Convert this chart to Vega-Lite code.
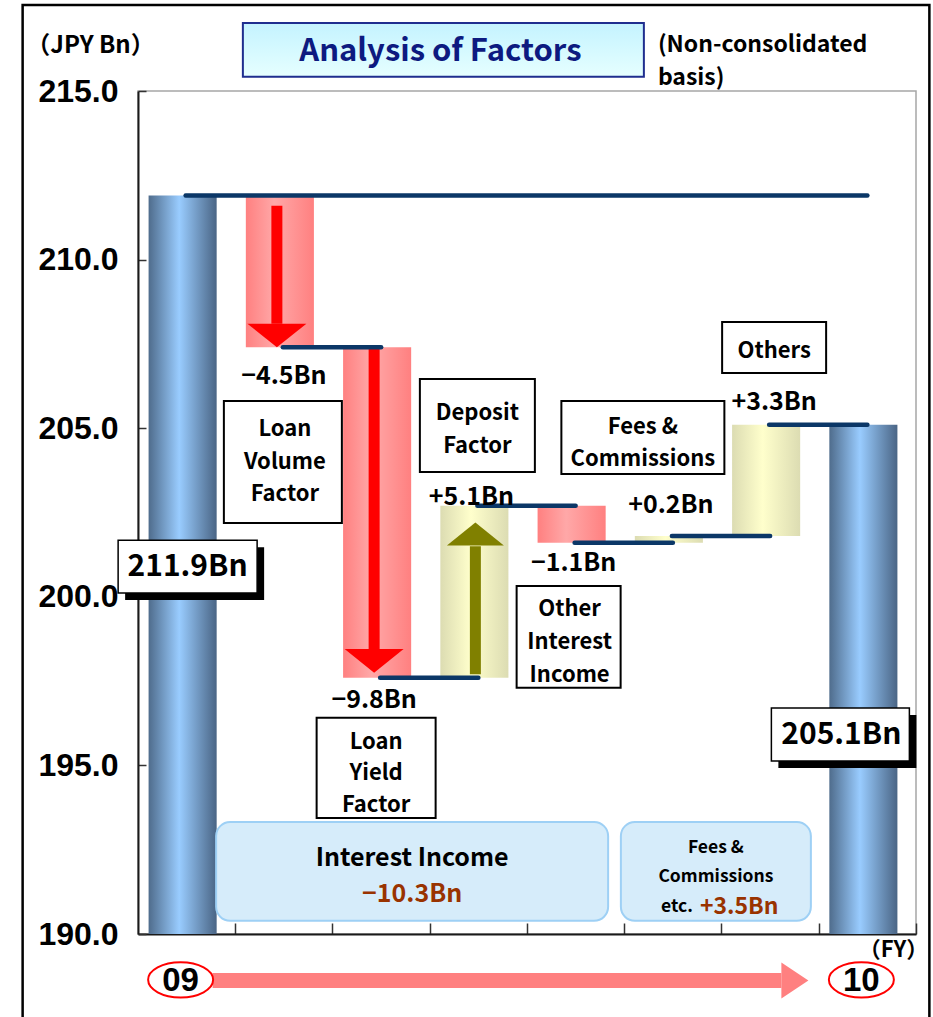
{
  "$schema": "https://vega.github.io/schema/vega-lite/v6.json",
  "width": 778,
  "height": 843,
  "autosize": {"type": "none"},
  "padding": {"left": 138, "top": 91, "right": 17, "bottom": 83},
  "background": "white",
  "config": {
    "view": {"stroke": "#A6A6A6", "strokeWidth": 1.5},
    "text": {"font": "Noto Sans CJK JP", "fontWeight": "bold", "fontSize": 25, "color": "black", "align": "center", "baseline": "middle"},
    "axis": {"grid": false, "domainColor": "#1a1a1a", "domainWidth": 2, "tickColor": "#333333", "tickWidth": 1.5, "titleFont": "Noto Sans CJK JP", "titleFontWeight": "bold", "titleColor": "black", "titleFontSize": 24}
  },
  "data": {"values": [{}]},
  "datasets": {
    "steps": [
      {"item": "FY09", "kind": "total", "level": 211.9},
      {"item": "Loan Volume Factor", "kind": "decrease", "from": 211.9, "level": 207.4, "change": -4.5},
      {"item": "Loan Yield Factor", "kind": "decrease", "from": 207.4, "level": 197.6, "change": -9.8},
      {"item": "Deposit Factor", "kind": "increase", "from": 197.6, "level": 202.7, "change": 5.1},
      {"item": "Other Interest Income", "kind": "decrease", "from": 202.7, "level": 201.6, "change": -1.1},
      {"item": "Fees & Commissions", "kind": "increase", "from": 201.6, "level": 201.8, "change": 0.2},
      {"item": "Others", "kind": "increase", "from": 201.8, "level": 205.1, "change": 3.3},
      {"item": "FY10", "kind": "total", "level": 205.1}
    ],
    "links": [
      {"a": "FY09", "b": "FY10", "level": 211.9},
      {"a": "Loan Volume Factor", "b": "Loan Yield Factor", "level": 207.4},
      {"a": "Loan Yield Factor", "b": "Deposit Factor", "level": 197.6},
      {"a": "Deposit Factor", "b": "Other Interest Income", "level": 202.7},
      {"a": "Other Interest Income", "b": "Fees & Commissions", "level": 201.6},
      {"a": "Fees & Commissions", "b": "Others", "level": 201.8},
      {"a": "Others", "b": "FY10", "level": 205.1}
    ],
    "arrows": [
      {"item": "Loan Volume Factor", "dir": "down", "tail": 211.6, "neck": 208.1, "tip": 207.4},
      {"item": "Loan Yield Factor", "dir": "down", "tail": 207.4, "neck": 198.4, "tip": 197.75},
      {"item": "Deposit Factor", "dir": "up", "tail": 197.7, "neck": 201.5, "tip": 202.2}
    ],
    "years": [
      {"item": "FY09", "label": "09"},
      {"item": "FY10", "label": "10"}
    ]
  },
  "layer": [
    {
      "data": {"name": "steps"},
      "transform": [{"filter": "datum.kind === 'total'"}],
      "mark": {"type": "bar", "xOffset": -4, "fill": {"gradient": "linear", "x1": 0, "y1": 0, "x2": 1, "y2": 0, "stops": [{"offset": 0, "color": "#4F6C8C"}, {"offset": 0.45, "color": "#99CCFF"}, {"offset": 1, "color": "#4A6585"}]}},
      "encoding": {
        "x": {"field": "item", "type": "nominal", "title": "（FY）",
          "scale": {"domain": ["FY09", "Loan Volume Factor", "Loan Yield Factor", "Deposit Factor", "Other Interest Income", "Fees & Commissions", "Others", "FY10"], "paddingInner": 0.3, "paddingOuter": 0.15},
          "axis": {"labels": false, "tickOffset": 48.6, "tickSize": -11, "titleX": 755, "titleY": 15, "titleAlign": "center", "titleBaseline": "middle", "titleFontSize": 22}},
        "y": {"field": "level", "type": "quantitative", "title": "（JPY Bn）",
          "scale": {"domain": [190, 215], "nice": false, "zero": false},
          "axis": {"values": [190, 195, 200, 205, 210, 215], "format": ".1f", "labelFont": "Liberation Sans", "labelFontSize": 32, "labelFontWeight": "bold", "labelColor": "black", "labelPadding": 28, "tickSize": -8, "titleAngle": 0, "titleX": -48, "titleY": -46, "titleAlign": "center", "titleBaseline": "middle"}},
        "y2": {"datum": 190}
      }
    },
    {
      "data": {"name": "steps"},
      "transform": [{"filter": "datum.kind === 'decrease'"}],
      "mark": {"type": "bar", "xOffset": -4, "fill": {"gradient": "linear", "x1": 0, "y1": 0, "x2": 1, "y2": 0, "stops": [{"offset": 0, "color": "#FF8080"}, {"offset": 0.42, "color": "#FFA8A8"}, {"offset": 1, "color": "#FF8080"}]}},
      "encoding": {
        "x": {"field": "item", "type": "nominal"},
        "y": {"field": "from", "type": "quantitative"},
        "y2": {"field": "level"}
      }
    },
    {
      "data": {"name": "steps"},
      "transform": [{"filter": "datum.kind === 'increase'"}],
      "mark": {"type": "bar", "xOffset": -4, "fill": {"gradient": "linear", "x1": 0, "y1": 0, "x2": 1, "y2": 0, "stops": [{"offset": 0, "color": "#DCDCB2"}, {"offset": 0.45, "color": "#FFFFCC"}, {"offset": 1, "color": "#DCDCB2"}]}},
      "encoding": {
        "x": {"field": "item", "type": "nominal"},
        "y": {"field": "from", "type": "quantitative"},
        "y2": {"field": "level"}
      }
    },
    {
      "data": {"name": "arrows"},
      "transform": [{"filter": "datum.dir === 'down'"}],
      "mark": {"type": "rule", "strokeWidth": 11, "strokeCap": "butt", "color": "#FF0000", "xOffset": -7},
      "encoding": {
        "x": {"field": "item", "type": "nominal"},
        "y": {"field": "tail", "type": "quantitative"},
        "y2": {"field": "neck"}
      }
    },
    {
      "data": {"name": "arrows"},
      "transform": [{"filter": "datum.dir === 'down'"}],
      "mark": {"type": "point", "shape": "M-1,-0.8L1,-0.8L0,0Z", "size": 3481, "filled": true, "color": "#FF0000", "opacity": 1, "strokeWidth": 0, "xOffset": -7},
      "encoding": {
        "x": {"field": "item", "type": "nominal"},
        "y": {"field": "tip", "type": "quantitative"}
      }
    },
    {
      "data": {"name": "arrows"},
      "transform": [{"filter": "datum.dir === 'up'"}],
      "mark": {"type": "rule", "strokeWidth": 11, "strokeCap": "butt", "color": "#808000", "xOffset": -3},
      "encoding": {
        "x": {"field": "item", "type": "nominal"},
        "y": {"field": "tail", "type": "quantitative"},
        "y2": {"field": "neck"}
      }
    },
    {
      "data": {"name": "arrows"},
      "transform": [{"filter": "datum.dir === 'up'"}],
      "mark": {"type": "point", "shape": "M-1,0.8L1,0.8L0,0Z", "size": 3249, "filled": true, "color": "#808000", "opacity": 1, "strokeWidth": 0, "xOffset": -3},
      "encoding": {
        "x": {"field": "item", "type": "nominal"},
        "y": {"field": "tip", "type": "quantitative"}
      }
    },
    {
      "data": {"name": "links"},
      "mark": {"type": "rule", "strokeWidth": 4.5, "strokeCap": "round", "color": "#0B3767", "xOffset": -1, "x2Offset": 0},
      "encoding": {
        "x": {"field": "a", "type": "nominal", "bandPosition": 0.5},
        "x2": {"field": "b", "bandPosition": 0.5},
        "y": {"field": "level", "type": "quantitative"}
      }
    },

    {"mark": {"type": "bar", "width": 118, "xOffset": -1, "fill": "white", "stroke": "black", "strokeWidth": 2},
     "encoding": {"x": {"datum": "Loan Volume Factor"}, "y": {"datum": 205.81}, "y2": {"datum": 202.19}}},
    {"mark": {"type": "text", "fontSize": 22, "dx": 1, "dy": -32.5, "lineHeight": 32.5, "text": ["Loan", "Volume", "Factor"]},
     "encoding": {"x": {"datum": "Loan Volume Factor"}, "y": {"datum": 204.0}}},

    {"mark": {"type": "bar", "width": 119, "xOffset": -5, "fill": "white", "stroke": "black", "strokeWidth": 2},
     "encoding": {"x": {"datum": "Loan Yield Factor"}, "y": {"datum": 196.41}, "y2": {"datum": 193.44}}},
    {"mark": {"type": "text", "fontSize": 22, "dx": -5, "dy": -31.5, "lineHeight": 31.5, "text": ["Loan", "Yield", "Factor"]},
     "encoding": {"x": {"datum": "Loan Yield Factor"}, "y": {"datum": 194.77}}},

    {"mark": {"type": "bar", "width": 115, "xOffset": -1, "fill": "white", "stroke": "black", "strokeWidth": 2},
     "encoding": {"x": {"datum": "Deposit Factor"}, "y": {"datum": 206.46}, "y2": {"datum": 203.7}}},
    {"mark": {"type": "text", "fontSize": 22, "dx": -1, "dy": -16.5, "lineHeight": 33, "text": ["Deposit", "Factor"]},
     "encoding": {"x": {"datum": "Deposit Factor"}, "y": {"datum": 204.96}}},

    {"mark": {"type": "bar", "width": 104, "xOffset": -7, "fill": "white", "stroke": "black", "strokeWidth": 2},
     "encoding": {"x": {"datum": "Other Interest Income"}, "y": {"datum": 200.32}, "y2": {"datum": 197.3}}},
    {"mark": {"type": "text", "fontSize": 22, "dx": -6, "dy": -33, "lineHeight": 33, "text": ["Other", "Interest", "Income"]},
     "encoding": {"x": {"datum": "Other Interest Income"}, "y": {"datum": 198.66}}},

    {"mark": {"type": "bar", "width": 163, "xOffset": -30, "fill": "white", "stroke": "black", "strokeWidth": 2},
     "encoding": {"x": {"datum": "Fees & Commissions"}, "y": {"datum": 205.81}, "y2": {"datum": 203.64}}},
    {"mark": {"type": "text", "fontSize": 22, "dx": -30, "dy": -16, "lineHeight": 32, "text": ["Fees &", "Commissions"]},
     "encoding": {"x": {"datum": "Fees & Commissions"}, "y": {"datum": 204.56}}},

    {"mark": {"type": "bar", "width": 104, "xOffset": 4, "fill": "white", "stroke": "black", "strokeWidth": 2},
     "encoding": {"x": {"datum": "Others"}, "y": {"datum": 208.15}, "y2": {"datum": 206.64}}},
    {"mark": {"type": "text", "fontSize": 22, "dx": 4, "text": "Others"},
     "encoding": {"x": {"datum": "Others"}, "y": {"datum": 207.29}}},

    {"mark": {"type": "text", "dx": 0, "text": "−4.5Bn"}, "encoding": {"x": {"datum": "Loan Volume Factor"}, "y": {"datum": 206.55}}},
    {"mark": {"type": "text", "dx": -7, "text": "−9.8Bn"}, "encoding": {"x": {"datum": "Loan Yield Factor"}, "y": {"datum": 196.94}}},
    {"mark": {"type": "text", "dx": -7, "text": "+5.1Bn"}, "encoding": {"x": {"datum": "Deposit Factor"}, "y": {"datum": 202.96}}},
    {"mark": {"type": "text", "dx": -2, "text": "−1.1Bn"}, "encoding": {"x": {"datum": "Other Interest Income"}, "y": {"datum": 201.0}}},
    {"mark": {"type": "text", "dx": -2, "text": "+0.2Bn"}, "encoding": {"x": {"datum": "Fees & Commissions"}, "y": {"datum": 202.72}}},
    {"mark": {"type": "text", "dx": 4, "text": "+3.3Bn"}, "encoding": {"x": {"datum": "Others"}, "y": {"datum": 205.78}}},

    {"mark": {"type": "bar", "width": 139, "xOffset": 8, "yOffset": 7, "y2Offset": 7, "fill": "black"},
     "encoding": {"x": {"datum": "FY09"}, "y": {"datum": 201.68}, "y2": {"datum": 200.11}}},
    {"mark": {"type": "bar", "width": 139, "xOffset": 1, "fill": "white", "stroke": "black", "strokeWidth": 1.5},
     "encoding": {"x": {"datum": "FY09"}, "y": {"datum": 201.68}, "y2": {"datum": 200.11}}},
    {"mark": {"type": "text", "dx": 1, "fontSize": 30, "text": "211.9Bn"},
     "encoding": {"x": {"datum": "FY09"}, "y": {"datum": 200.88}}},

    {"mark": {"type": "bar", "width": 138, "xOffset": -20, "yOffset": 7, "y2Offset": 7, "fill": "black"},
     "encoding": {"x": {"datum": "FY10"}, "y": {"datum": 196.7}, "y2": {"datum": 195.13}}},
    {"mark": {"type": "bar", "width": 138, "xOffset": -27, "fill": "white", "stroke": "black", "strokeWidth": 1.5},
     "encoding": {"x": {"datum": "FY10"}, "y": {"datum": 196.7}, "y2": {"datum": 195.13}}},
    {"mark": {"type": "text", "dx": -26, "fontSize": 30, "text": "205.1Bn"},
     "encoding": {"x": {"datum": "FY10"}, "y": {"datum": 195.9}}},

    {"mark": {"type": "bar", "width": 392, "xOffset": 31, "cornerRadius": 14, "fill": "#D6ECFA", "stroke": "#9ED0F5", "strokeWidth": 2},
     "encoding": {"x": {"datum": "Loan Yield Factor"}, "y": {"datum": 193.32}, "y2": {"datum": 190.39}}},
    {"mark": {"type": "text", "dx": 31, "fontSize": 25, "text": "Interest Income"},
     "encoding": {"x": {"datum": "Loan Yield Factor"}, "y": {"datum": 192.26}}},
    {"mark": {"type": "text", "dx": 31, "fontSize": 25, "color": "#993300", "text": "−10.3Bn"},
     "encoding": {"x": {"datum": "Loan Yield Factor"}, "y": {"datum": 191.18}}},

    {"mark": {"type": "bar", "width": 190, "xOffset": 43, "cornerRadius": 14, "fill": "#D6ECFA", "stroke": "#9ED0F5", "strokeWidth": 2},
     "encoding": {"x": {"datum": "Fees & Commissions"}, "y": {"datum": 193.32}, "y2": {"datum": 190.39}}},
    {"mark": {"type": "text", "dx": 43, "dy": -14.5, "fontSize": 17.5, "lineHeight": 29, "text": ["Fees &", "Commissions"]},
     "encoding": {"x": {"datum": "Fees & Commissions"}, "y": {"datum": 192.12}}},
    {"mark": {"type": "text", "dx": 20, "fontSize": 17.5, "align": "right", "text": "etc."},
     "encoding": {"x": {"datum": "Fees & Commissions"}, "y": {"datum": 190.8}}},
    {"mark": {"type": "text", "dx": 27, "fontSize": 23, "align": "left", "color": "#993300", "text": "+3.5Bn"},
     "encoding": {"x": {"datum": "Fees & Commissions"}, "y": {"datum": 190.8}}},

    {"mark": {"type": "bar", "width": 401, "xOffset": -35, "stroke": "#1F2E8F", "strokeWidth": 2, "fill": {"gradient": "linear", "x1": 0, "y1": 0, "x2": 0, "y2": 1, "stops": [{"offset": 0, "color": "#C4F3FF"}, {"offset": 1, "color": "#E6FFFF"}]}},
     "encoding": {"x": {"datum": "Deposit Factor"}, "y": {"datum": 217.02}, "y2": {"datum": 215.42}}},
    {"mark": {"type": "text", "dx": -38, "fontSize": 31, "color": "#0D1A80", "text": "Analysis of Factors"},
     "encoding": {"x": {"datum": "Deposit Factor"}, "y": {"datum": 216.16}}},
    {"mark": {"type": "text", "dx": -15, "dy": -16.5, "fontSize": 23, "align": "left", "lineHeight": 33, "text": ["(Non-consolidated", "basis)"]},
     "encoding": {"x": {"datum": "Fees & Commissions"}, "y": {"datum": 215.87}}},

    {"mark": {"type": "rule", "strokeWidth": 15, "strokeCap": "butt", "color": "#FF8080", "xOffset": 26, "x2Offset": -86},
     "encoding": {"x": {"datum": "FY09", "bandPosition": 0.5}, "x2": {"datum": "FY10", "bandPosition": 0.5}, "y": {"datum": 188.62}}},
    {"mark": {"type": "point", "shape": "M0,0L-1.5,-1L-1.5,1Z", "size": 1296, "filled": true, "color": "#FF8080", "opacity": 1, "strokeWidth": 0, "xOffset": -59},
     "encoding": {"x": {"datum": "FY10"}, "y": {"datum": 188.62}}},
    {"data": {"name": "years"},
     "mark": {"type": "point", "shape": "M-1,0A1,0.54 0 1,1 1,0A1,0.54 0 1,1 -1,0Z", "size": 4225, "filled": false, "fill": "white", "stroke": "#FF0000", "strokeWidth": 2, "opacity": 1, "xOffset": -6},
     "encoding": {"x": {"field": "item", "type": "nominal"}, "y": {"datum": 188.64}}},
    {"data": {"name": "years"},
     "mark": {"type": "text", "dx": -6, "dy": 1, "font": "Liberation Sans", "fontSize": 33, "fontWeight": "bold"},
     "encoding": {"x": {"field": "item", "type": "nominal"}, "y": {"datum": 188.64}, "text": {"field": "label"}}},

    {"mark": {"type": "rect", "fillOpacity": 0, "stroke": "black", "strokeWidth": 2.5, "xOffset": -164, "x2Offset": 62},
     "encoding": {"x": {"datum": "FY09", "bandPosition": 0.5}, "x2": {"datum": "FY10", "bandPosition": 0.5}, "y": {"datum": 217.55}, "y2": {"datum": 186}}}
  ]
}
